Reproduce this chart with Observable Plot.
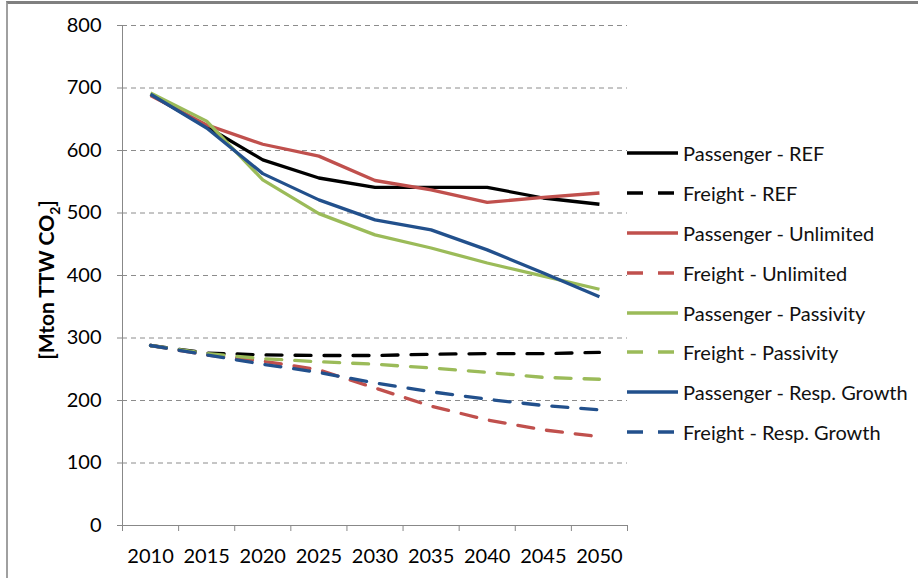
<!DOCTYPE html>
<html>
<head>
<meta charset="utf-8">
<script src="https://cdn.jsdelivr.net/npm/d3@7"></script>
<script src="https://cdn.jsdelivr.net/npm/@observablehq/plot@0.6"></script>
<style>
  html, body { margin: 0; padding: 0; background: #fff; }
  #wrap { position: relative; width: 918px; height: 578px; overflow: hidden; font-family: Lato, "Open Sans", sans-serif; background: #fff; }
  #border { position: absolute; left: 6px; top: 1px; width: 1000px; height: 600px; border-top: 3px solid #808080; border-left: 2px solid #a0a0a0; box-sizing: border-box; }
  #chart { position: absolute; left: 0; top: 0; }
  #ylabel { position: absolute; left: 48px; top: 280px; transform: translate(-50%, -50%) rotate(-90deg); font-weight: bold; font-size: 21px; white-space: nowrap; color: #000; }
  #ylabel sub { font-size: 14px; }
  #legend { position: absolute; left: 627px; top: 133px; }
  .item { display: flex; align-items: center; height: 39.9px; white-space: nowrap; font-size: 20px; color: #111; }
  .item svg { margin-right: 5px; flex: none; }
</style>
</head>
<body>
<div id="wrap">
  <div id="border"></div>
  <div id="chart"></div>
  <div id="ylabel">[Mton TTW CO<sub>2</sub>]</div>
  <div id="legend"></div>
</div>
<script>
const years = [2010, 2015, 2020, 2025, 2030, 2035, 2040, 2045, 2050];
const yTicks = [0, 100, 200, 300, 400, 500, 600, 700, 800];
const xDomain = [2007.5, 2052.5];
const xBoundaries = [2007.5, 2012.5, 2017.5, 2022.5, 2027.5, 2032.5, 2037.5, 2042.5, 2047.5, 2052.5];

const passengerREF       = [690, 638, 585, 556, 541, 541, 541, 524, 514];
const freightREF         = [288, 276, 273, 272, 272, 274, 275, 275, 277];
const passengerUnlimited = [688, 641, 610, 591, 552, 537, 517, 525, 532];
const freightUnlimited   = [288, 273, 263, 249, 220, 191, 169, 153, 142];
const passengerPassivity = [692, 647, 553, 499, 465, 444, 420, 399, 378];
const freightPassivity   = [288, 275, 267, 262, 258, 252, 245, 237, 234];
const passengerRespGrowth= [690, 636, 563, 521, 489, 473, 441, 404, 366];
const freightRespGrowth  = [288, 273, 258, 245, 228, 214, 202, 192, 185];

const seriesNames = [
  "Passenger - REF", "Freight - REF",
  "Passenger - Unlimited", "Freight - Unlimited",
  "Passenger - Passivity", "Freight - Passivity",
  "Passenger - Resp. Growth", "Freight - Resp. Growth"
];
const seriesValues = [
  passengerREF, freightREF,
  passengerUnlimited, freightUnlimited,
  passengerPassivity, freightPassivity,
  passengerRespGrowth, freightRespGrowth
];
const seriesColors = ["#000000", "#000000", "#c0504d", "#c0504d", "#9bbb59", "#9bbb59", "#22508c", "#22508c"];
const seriesDashed = [false, true, false, true, false, true, false, true];

const dash = "16,13";

const lineMarks = [];
// freight (dashed) first, then passenger on top
const order = [1, 3, 5, 7, 0, 2, 4, 6];
for (const i of order) {
  const data = years.map((year, j) => ({year, value: seriesValues[i][j]}));
  lineMarks.push(Plot.line(data, {
    x: "year", y: "value",
    stroke: seriesColors[i], strokeWidth: 3.3,
    strokeDasharray: seriesDashed[i] ? dash : null,
    strokeLinejoin: "round", strokeLinecap: seriesDashed[i] ? "round" : "butt"
  }));
}

const chart = Plot.plot({
  width: 918, height: 578,
  marginLeft: 122, marginRight: 291, marginTop: 25, marginBottom: 53,
  style: {fontFamily: "Lato, 'Open Sans', sans-serif", fontSize: "20px", color: "#000", background: "transparent"},
  x: {type: "linear", domain: xDomain},
  y: {domain: [0, 800]},
  marks: [
    Plot.ruleY(yTicks.filter(d => d > 0), {stroke: "#8c8c8c", strokeWidth: 1, strokeDasharray: "5,4"}),
    Plot.axisY({ticks: yTicks, tickSize: 5, tickPadding: 16, stroke: "#888", label: null, tickFormat: d => String(d), fontSize: 20}),
    Plot.axisX({ticks: years, tickSize: 0, tickPadding: 23, label: null, tickFormat: d => String(d), fontSize: 20}),
    Plot.axisX({ticks: xBoundaries, tickSize: 6, stroke: "#888", label: null, tickFormat: () => ""}),
    Plot.ruleX([xDomain[0]], {stroke: "#888", strokeWidth: 1}),
    Plot.ruleY([0], {stroke: "#888", strokeWidth: 1}),
    ...lineMarks
  ]
});
document.getElementById("chart").appendChild(chart);

const legend = document.getElementById("legend");
seriesNames.forEach((name, i) => {
  const item = document.createElement("div");
  item.className = "item";
  const svg = d3.create("svg").attr("width", 51).attr("height", 8);
  svg.append("line").attr("x1", 0).attr("x2", 51).attr("y1", 4).attr("y2", 4)
    .attr("stroke", seriesColors[i]).attr("stroke-width", 3.3)
    .attr("stroke-dasharray", seriesDashed[i] ? "16,15" : null);
  item.appendChild(svg.node());
  const span = document.createElement("span");
  span.textContent = name;
  item.appendChild(span);
  legend.appendChild(item);
});
</script>
</body>
</html>
